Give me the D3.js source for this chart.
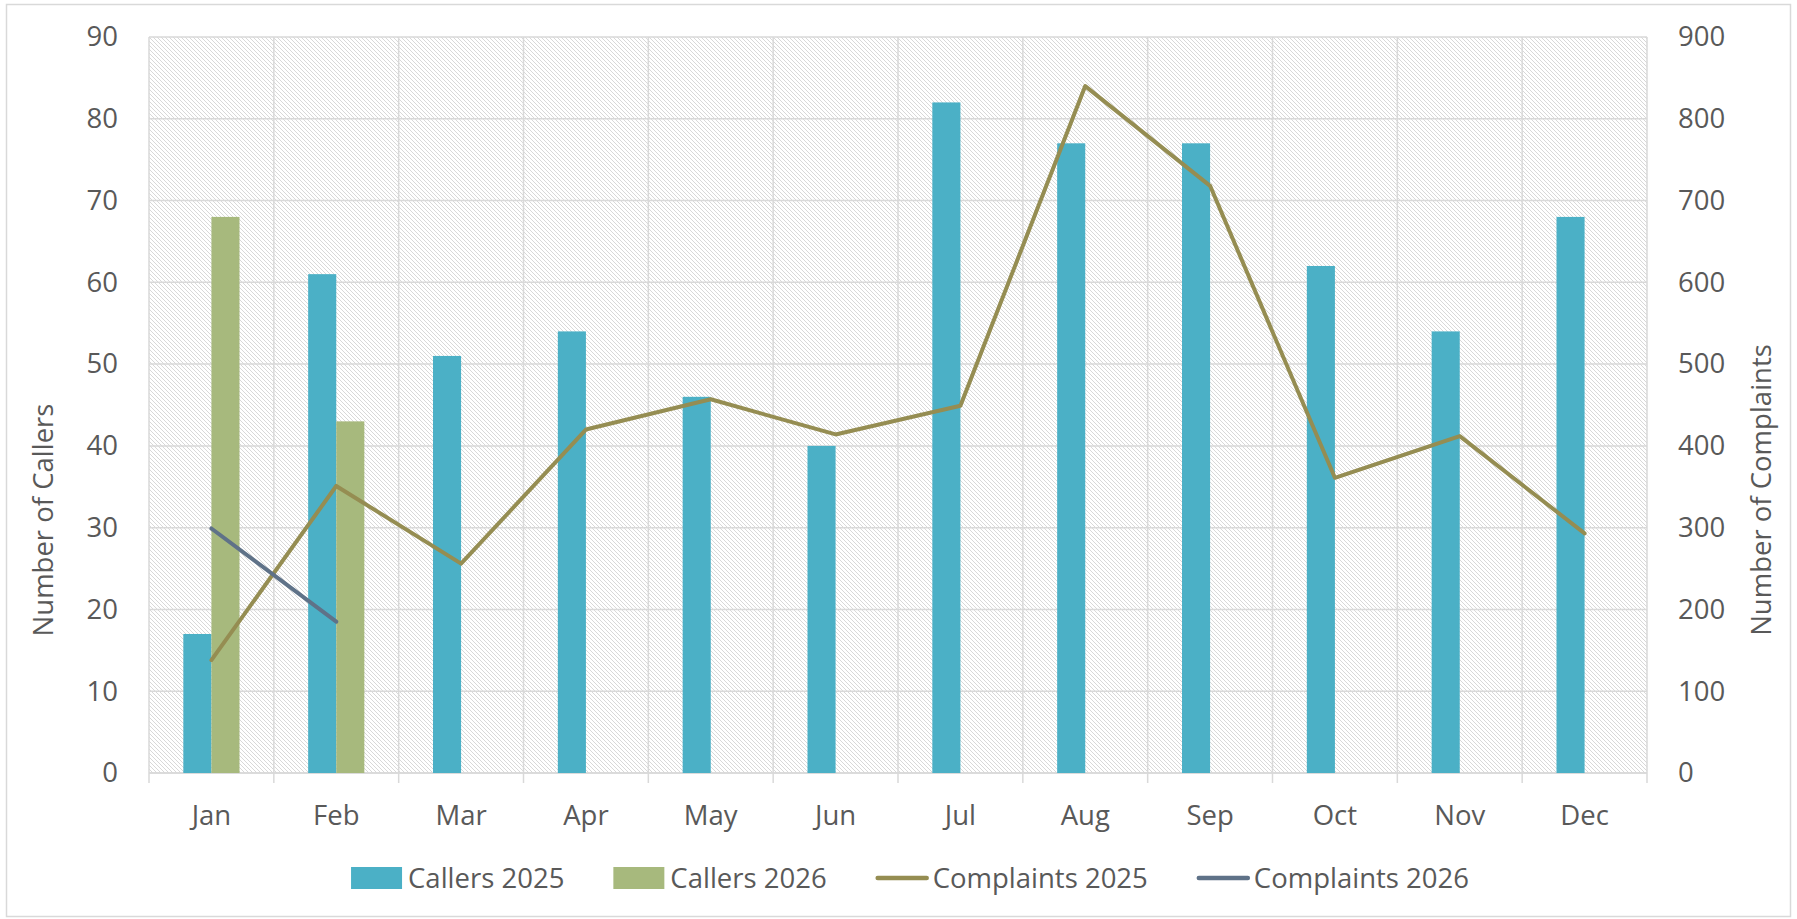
<!DOCTYPE html>
<html>
<head>
<meta charset="utf-8">
<script src="https://cdn.jsdelivr.net/npm/d3@7"></script>
<style>
body{margin:0;background:#fff;}
svg text{font-family:"Open Sans",sans-serif;fill:#595959;font-size:27.5px;}
</style>
</head>
<body>
<div id="chart"></div>
<script>
// values
var months=["Jan","Feb","Mar","Apr","May","Jun","Jul","Aug","Sep","Oct","Nov","Dec"];
var callers2025=[17,61,51,54,46,40,82,77,77,62,54,68];
var callers2026=[68,43];
var complaints2025=[138,351,256,420,457,414,449,840,718,361,412,293];
var complaints2026=[299,185];
var callerTicks=[0,10,20,30,40,50,60,70,80,90];
var complaintTicks=[0,100,200,300,400,500,600,700,800,900];
var seriesNames=["Callers 2025","Callers 2026","Complaints 2025","Complaints 2026"];
var seriesColors=["#4bb0c6","#a7b97d","#958d52","#5f7288"];

var W=1797,H=919;
var margin={left:149,right:150,top:37,bottom:146};
var width=W-margin.left-margin.right;
var height=H-margin.top-margin.bottom;

var svg=d3.select("#chart")
    .append("svg")
    .attr("width",W)
    .attr("height",H);

// chart frame
svg.append("rect")
    .attr("x",6.5).attr("y",4.5)
    .attr("width",W-13).attr("height",H-7)
    .attr("fill","#fff")
    .attr("stroke","#d9d9d9")
    .attr("stroke-width",1.5);

var defs=svg.append("defs");
var pat=defs.append("pattern")
    .attr("id","hatch")
    .attr("patternUnits","userSpaceOnUse")
    .attr("width",4).attr("height",4);
pat.append("rect").attr("width",4).attr("height",4).attr("fill","#fff");
pat.append("path")
    .attr("d","M-1,-1L5,5M-1,3L1,5M3,-1L5,1")
    .attr("stroke","#d8d8d8")
    .attr("stroke-width",1);

var g=svg.append("g")
    .attr("transform","translate("+margin.left+","+margin.top+")");

var x0=d3.scaleBand().domain(months).range([0,width]);
var bw=x0.bandwidth();
var x1=d3.scaleBand().domain(["c25","c26"]).range([bw*0.275,bw*0.725]);
var yL=d3.scaleLinear().domain([0,90]).range([height,0]);
var yR=d3.scaleLinear().domain([0,900]).range([height,0]);

g.append("rect")
    .attr("width",width).attr("height",height)
    .attr("fill","url(#hatch)");

// gridlines
g.selectAll(".hgrid")
    .data(callerTicks)
    .enter().append("line")
    .attr("class","hgrid")
    .attr("x1",0).attr("x2",width)
    .attr("y1",function(d){return yL(d);})
    .attr("y2",function(d){return yL(d);})
    .attr("stroke","#d9d9d9")
    .attr("stroke-width",1.5);

var bounds=months.map(function(m){return x0(m);}).concat([width]);
g.selectAll(".vgrid")
    .data(bounds)
    .enter().append("line")
    .attr("class","vgrid")
    .attr("x1",function(d){return d;})
    .attr("x2",function(d){return d;})
    .attr("y1",0).attr("y2",height+10)
    .attr("stroke","#d9d9d9")
    .attr("stroke-width",1.5);

// axes
var yAxisL=d3.axisLeft(yL).tickValues(callerTicks).tickSize(0).tickPadding(31);
var yAxisR=d3.axisRight(yR).tickValues(complaintTicks).tickSize(0).tickPadding(31);
var xAxis=d3.axisBottom(x0).tickSize(0).tickPadding(32.5);

var gl=g.append("g").call(yAxisL);
var gr=g.append("g").attr("transform","translate("+width+",0)").call(yAxisR);
var gx=g.append("g").attr("transform","translate(0,"+height+")").call(xAxis);
[gl,gr,gx].forEach(function(a){
    a.select(".domain").remove();
    a.selectAll("text").attr("font-size",null).attr("fill",null);
    a.attr("font-size",null).attr("font-family",null);
});

g.append("line")
    .attr("x1",0).attr("x2",width)
    .attr("y1",height).attr("y2",height)
    .attr("stroke","#d9d9d9")
    .attr("stroke-width",1.5);

// bars
g.selectAll(".bar25")
    .data(callers2025)
    .enter().append("rect")
    .attr("class","bar25")
    .attr("x",function(d,i){return x0(months[i])+x1("c25");})
    .attr("y",function(d){return yL(d);})
    .attr("width",x1.bandwidth())
    .attr("height",function(d){return height-yL(d);})
    .attr("fill",seriesColors[0]);

g.selectAll(".bar26")
    .data(callers2026)
    .enter().append("rect")
    .attr("class","bar26")
    .attr("x",function(d,i){return x0(months[i])+x1("c26");})
    .attr("y",function(d){return yL(d);})
    .attr("width",x1.bandwidth())
    .attr("height",function(d){return height-yL(d);})
    .attr("fill",seriesColors[1]);

// lines
var line=d3.line()
    .x(function(d,i){return x0(months[i])+bw/2;})
    .y(function(d){return yR(d);});

g.append("path")
    .datum(complaints2025)
    .attr("d",line)
    .attr("fill","none")
    .attr("stroke",seriesColors[2])
    .attr("stroke-width",4)
    .attr("stroke-linejoin","round")
    .attr("stroke-linecap","round");

g.append("path")
    .datum(complaints2026)
    .attr("d",line)
    .attr("fill","none")
    .attr("stroke",seriesColors[3])
    .attr("stroke-width",4)
    .attr("stroke-linejoin","round")
    .attr("stroke-linecap","round");

// axis titles
svg.append("text")
    .attr("transform","translate(53,520) rotate(-90)")
    .attr("text-anchor","middle")
    .text("Number of Callers");

svg.append("text")
    .attr("transform","translate(1771,490) rotate(-90)")
    .attr("text-anchor","middle")
    .text("Number of Complaints");

// legend
var legend=svg.append("g");
var lx=0;
seriesNames.forEach(function(name,i){
    var item=legend.append("g").attr("transform","translate("+lx+",0)");
    if(i<2){
        item.append("rect")
            .attr("x",0).attr("y",-21)
            .attr("width",51).attr("height",22)
            .attr("fill",seriesColors[i]);
    }else{
        item.append("line")
            .attr("x1",2).attr("x2",51)
            .attr("y1",-10).attr("y2",-10)
            .attr("stroke",seriesColors[i])
            .attr("stroke-width",4.5)
            .attr("stroke-linecap","round");
    }
    var t=item.append("text")
        .attr("x",57).attr("y",0)
        .text(name);
    lx+=57+t.node().getComputedTextLength()+49;
});
var legendW=lx-49;
legend.attr("transform","translate("+(910-legendW/2)+",888)");
</script>
</body>
</html>
